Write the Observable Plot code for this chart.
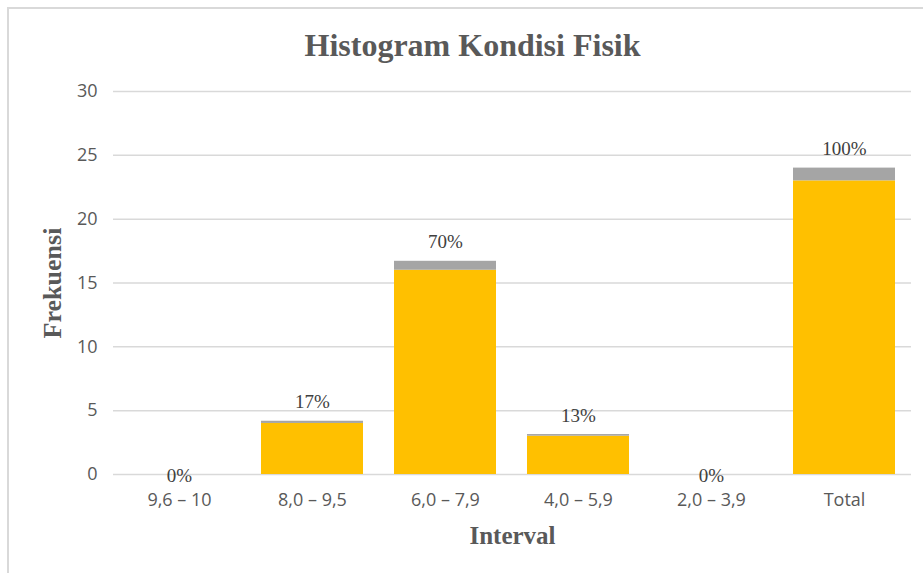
<!DOCTYPE html>
<html>
<head>
<meta charset="utf-8">
<script src="https://cdn.jsdelivr.net/npm/d3@7"></script>
<script src="https://cdn.jsdelivr.net/npm/@observablehq/plot@0.6"></script>
<style>
  html, body { margin: 0; padding: 0; background: #fff; }
  #wrap { position: relative; width: 923px; height: 573px; overflow: hidden; }
  #frame { position: absolute; left: 7px; top: 7px; right: 0; bottom: 0;
           border-top: 2px solid #d9d9d9; border-left: 2px solid #d9d9d9; pointer-events: none; }
  #chart { position: absolute; left: 0; top: 0; }
</style>
</head>
<body>
<div id="wrap"><div id="chart"></div><div id="frame"></div></div>
<script>
const title = "Histogram Kondisi Fisik";
const xTitle = "Interval";
const yTitle = "Frekuensi";
const categories = ["9,6 – 10", "8,0 – 9,5", "6,0 – 7,9", "4,0 – 5,9", "2,0 – 3,9", "Total"];
const frekuensi = [0, 4, 16, 3, 0, 23];
const persen = [0, 0.17, 0.70, 0.13, 0, 1.00];
const yTicks = [0, 5, 10, 15, 20, 25, 30];

const rows = [];
categories.forEach((c, i) => {
  rows.push({cat: c, series: "Frekuensi", value: frekuensi[i]});
});
categories.forEach((c, i) => {
  rows.push({cat: c, series: "Persen", value: persen[i]});
});
const labels = categories.map((c, i) => ({cat: c, top: frekuensi[i] + persen[i], pct: persen[i]}));
const fmt = d3.format(".0%");

const serif = "'Liberation Serif', 'Times New Roman', serif";

const chart = Plot.plot({
  width: 923,
  height: 573,
  marginLeft: 113,
  marginRight: 12,
  marginTop: 91,
  marginBottom: 99,
  style: {fontFamily: "'Open Sans', sans-serif", background: "#fff", color: "#595959"},
  x: {domain: categories, paddingInner: 0.233, paddingOuter: 0.1165, label: null},
  y: {domain: [0, 30], label: null},
  color: {domain: ["Frekuensi", "Persen"], range: ["#ffc000", "#a5a5a5"]},
  marks: [
    Plot.gridY(yTicks, {stroke: "#d9d9d9", strokeOpacity: 1, strokeWidth: 1.5}),
    Plot.barY(rows, {x: "cat", y: "value", fill: "series", order: null}),
    Plot.axisY({ticks: yTicks, tickSize: 0, tickPadding: 16, fontSize: 18, fill: "#595959", label: null}),
    Plot.axisX({tickSize: 0, tickPadding: 19, fontSize: 18, fill: "#595959", label: null}),
    Plot.text(labels.filter(d => d.top > 0), {x: "cat", y: "top", text: d => fmt(d.pct), lineAnchor: "bottom", dy: -13,
      fontSize: 19, fontFamily: serif, fill: "#404040"}),
    Plot.text(labels.filter(d => d.top === 0), {x: "cat", y: "top", text: d => fmt(d.pct), lineAnchor: "middle", dy: 1,
      fontSize: 19, fontFamily: serif, fill: "#404040"}),
    Plot.text([title], {frameAnchor: "top", dx: -40, dy: -46, lineAnchor: "middle", fontSize: 32, fontWeight: "bold",
      fontFamily: serif, fill: "#595959"}),
    Plot.text([xTitle], {frameAnchor: "bottom", dy: 61, lineAnchor: "middle", fontSize: 25, fontWeight: "bold",
      fontFamily: serif, fill: "#595959"}),
    Plot.text([yTitle], {frameAnchor: "left", dx: -61, rotate: -90, textAnchor: "middle", lineAnchor: "middle", fontSize: 26,
      fontWeight: "bold", fontFamily: serif, fill: "#595959"})
  ]
});
document.getElementById("chart").appendChild(chart);
</script>
</body>
</html>
